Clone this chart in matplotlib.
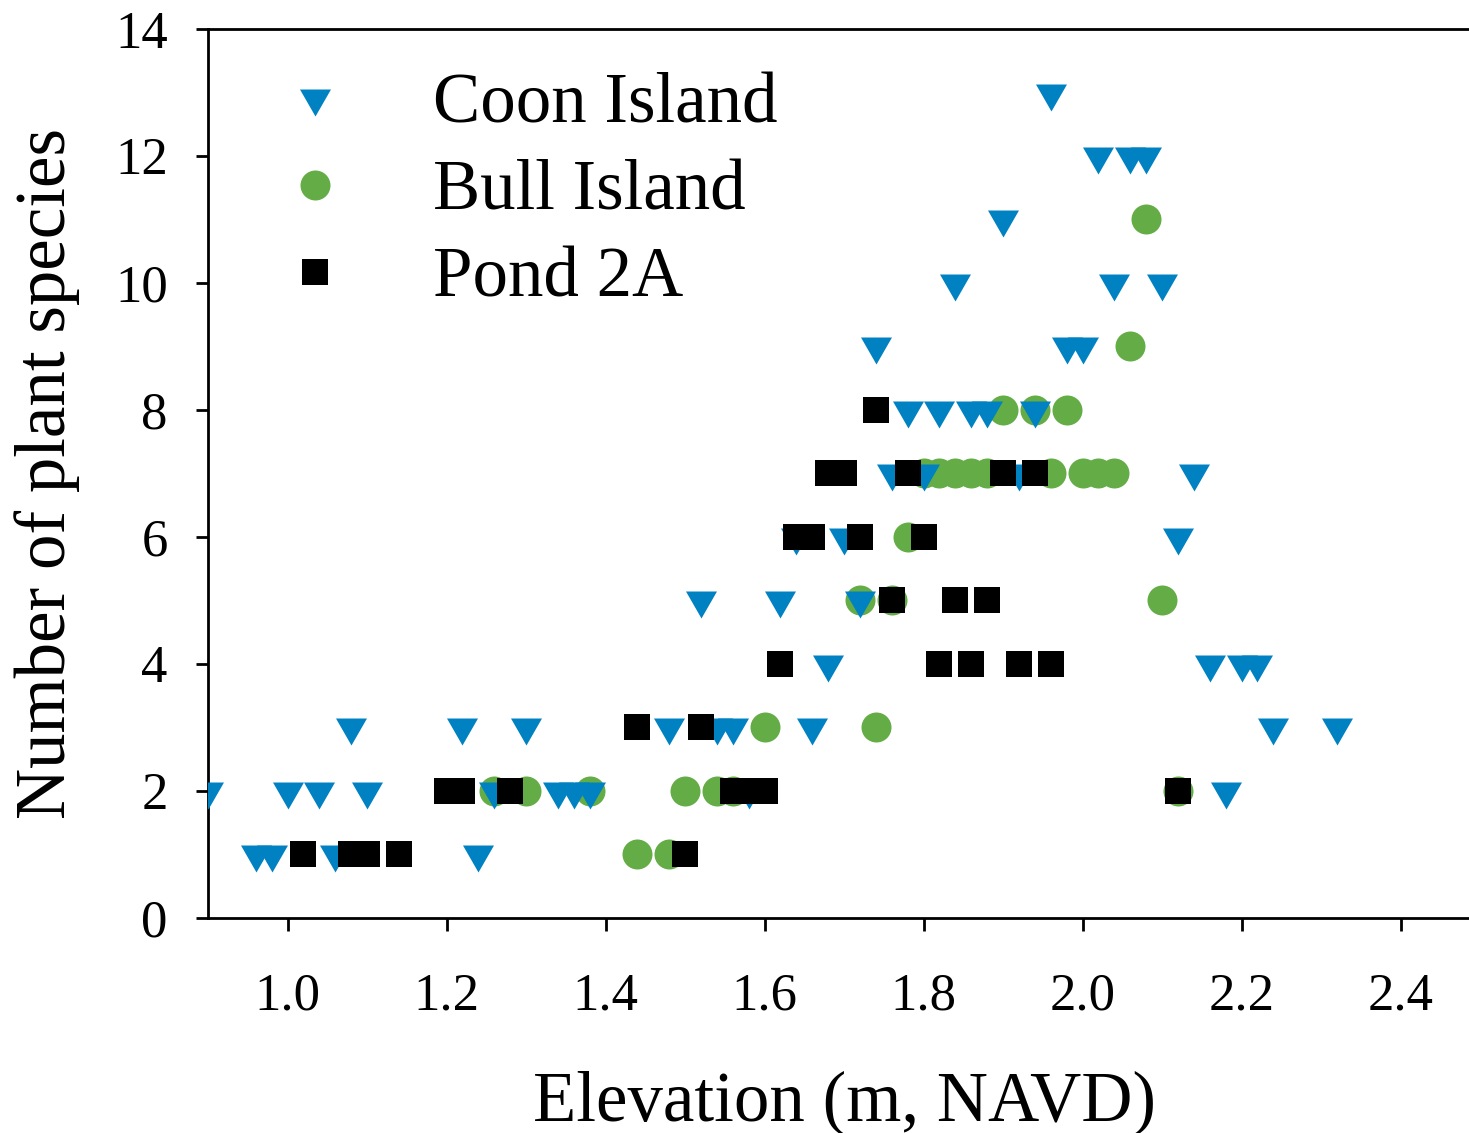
import numpy as np
import matplotlib
matplotlib.use('Agg')
import matplotlib.pyplot as plt

plt.rcParams['font.family'] = ['Liberation Serif', 'DejaVu Serif']

# elevation (m, NAVD) and species count per plot, by site
coon_elev = [0.96, 0.98, 1.06, 1.24,
             0.90, 1.00, 1.04, 1.10, 1.26, 1.34, 1.36, 1.38, 1.58, 2.18,
             1.08, 1.22, 1.30, 1.48, 1.54, 1.56, 1.66, 2.24, 2.32,
             1.68, 2.16, 2.20, 2.22,
             1.52, 1.62, 1.72,
             1.64, 1.70, 2.12,
             1.76, 1.80, 1.92, 2.14,
             1.78, 1.82, 1.86, 1.88, 1.94,
             1.74, 1.98, 2.00,
             1.84, 2.04, 2.10,
             1.90,
             2.02, 2.06, 2.08,
             1.96]
coon_species = [1] * 4 + [2] * 10 + [3] * 9 + [4] * 4 + [5] * 3 + [6] * 3 + \
               [7] * 4 + [8] * 5 + [9] * 3 + [10] * 3 + [11] + [12] * 3 + [13]

bull_elev = [1.44, 1.48,
             1.26, 1.30, 1.38, 1.50, 1.54, 1.56, 2.12,
             1.60, 1.74,
             1.72, 1.76, 2.10,
             1.78,
             1.80, 1.82, 1.84, 1.86, 1.88, 1.96, 2.00, 2.02, 2.04,
             1.90, 1.94, 1.98,
             2.06,
             2.08]
bull_species = [1] * 2 + [2] * 7 + [3] * 2 + [5] * 3 + [6] + [7] * 9 + \
               [8] * 3 + [9] + [11]

pond_elev = [1.02, 1.08, 1.10, 1.14, 1.50,
             1.20, 1.22, 1.28, 1.56, 1.58, 1.60, 2.12,
             1.44, 1.52,
             1.62, 1.82, 1.86, 1.92, 1.96,
             1.76, 1.84, 1.88,
             1.64, 1.66, 1.72, 1.80,
             1.68, 1.70, 1.78, 1.90, 1.94,
             1.74]
pond_species = [1] * 5 + [2] * 7 + [3] * 2 + [4] * 5 + [5] * 3 + [6] * 4 + \
               [7] * 5 + [8]

blue = '#0081c1'
green = '#64ac46'

# down triangle centred on its centroid
tri = [(-15.5, 9), (15.5, 9), (0, -18)]

fig = plt.figure(figsize=(14.69, 11.33), dpi=100)
ax = fig.add_axes([0.1416, 0.1898, 0.8659, 0.7846])

ax.plot(coon_elev, coon_species, linestyle='none', marker=tri, ms=25.9,
        color=blue, mew=0, zorder=3, label='Coon Island')
ax.plot(bull_elev, bull_species, linestyle='none', marker='o', ms=21.6,
        color=green, mew=0, zorder=2, label='Bull Island')
ax.plot(pond_elev, pond_species, linestyle='none', marker='s', ms=19.4,
        color='black', mew=0, zorder=4, label='Pond 2A')

ax.set_xlim(0.9, 2.5)
ax.set_ylim(0, 14)
ax.set_xticks(np.arange(1.0, 2.41, 0.2))
ax.set_xticklabels(['%.1f' % v for v in np.arange(1.0, 2.41, 0.2)])
ax.set_yticks(np.arange(0, 15, 2))

ax.spines['right'].set_visible(False)
for s in ['left', 'bottom', 'top']:
    ax.spines[s].set_linewidth(2)
ax.tick_params(direction='out', length=9, width=2, labelsize=38)
ax.tick_params(axis='y', pad=20)
ax.tick_params(axis='x', pad=30)

ax.set_xlabel('Elevation (m, NAVD)', fontsize=51, labelpad=36)
ax.set_ylabel('Number of plant species', fontsize=51, labelpad=25)

ax.legend(loc='upper left', bbox_to_anchor=(0.056, 0.951), frameon=False,
          fontsize=51, numpoints=1, handlelength=1.0, handletextpad=1.17,
          borderaxespad=0, borderpad=0, labelspacing=0.31)

fig.savefig('out.png', dpi=100)
